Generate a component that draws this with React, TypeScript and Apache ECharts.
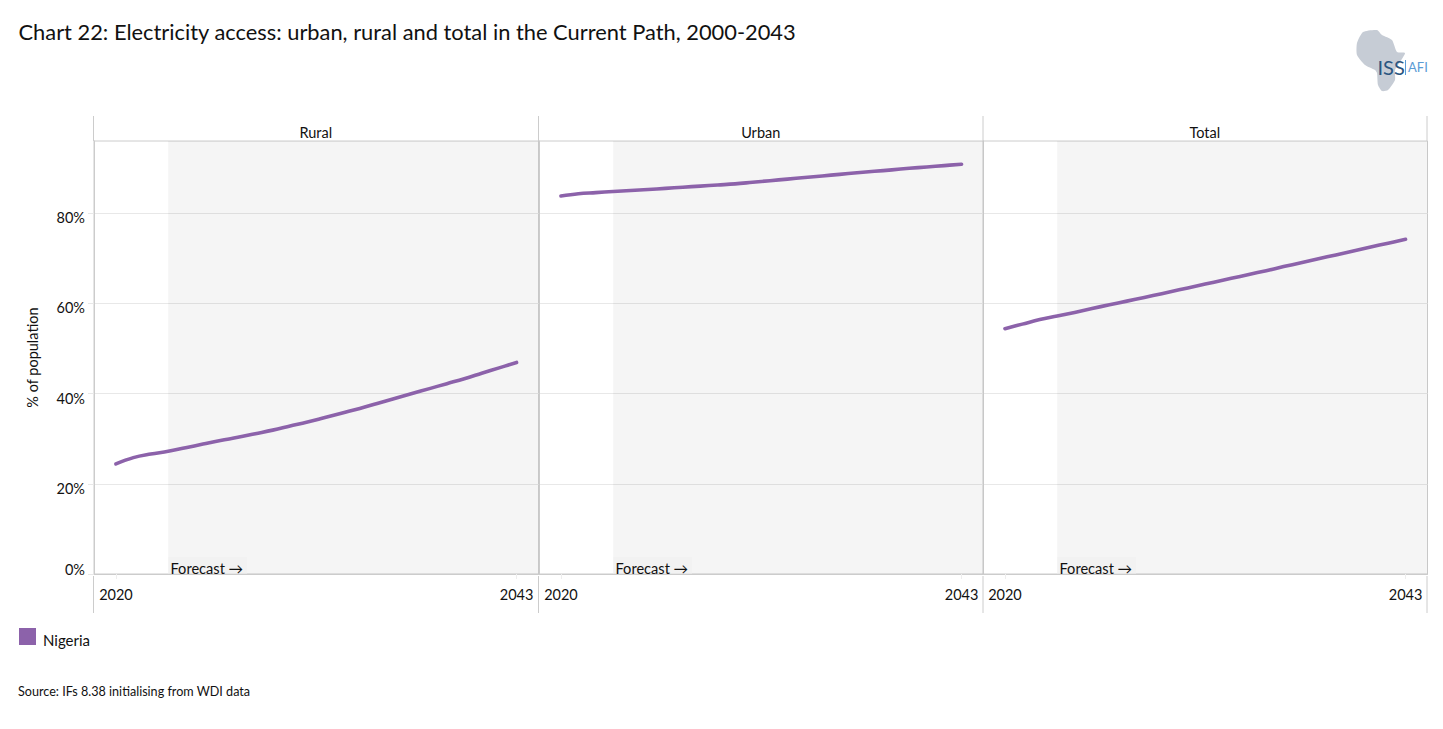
import React, { useEffect, useRef } from "react";
import * as echarts from "echarts";

const years = [2020,2021,2022,2023,2024,2025,2026,2027,2028,2029,2030,2031,2032,2033,2034,2035,2036,2037,2038,2039,2040,2041,2042,2043];
const rural = [24.4,25.8,26.6,27.2,28.0,28.8,29.6,30.3,31.1,31.9,32.8,33.7,34.7,35.7,36.7,37.8,38.9,40.0,41.1,42.2,43.3,44.5,45.7,46.9];
const urban = [83.8,84.3,84.55,84.8,85.02,85.25,85.5,85.75,86.0,86.25,86.5,86.85,87.2,87.55,87.9,88.25,88.6,88.95,89.28,89.6,89.95,90.25,90.55,90.85];
const total = [54.4,55.4,56.4,57.2,58.0,58.85,59.7,60.5,61.3,62.15,63.0,63.85,64.7,65.55,66.4,67.25,68.15,69.0,69.9,70.75,71.6,72.5,73.35,74.2];
const panelNames = ["Rural", "Urban", "Total"];
const panelValues = [rural, urban, total];
const yTicks = [0, 20, 40, 60, 80];
const xTicks = [2020, 2043];
const forecastStart = 2023;
const seriesName = "Nigeria";
const titleText = "Chart 22: Electricity access: urban, rural and total in the Current Path, 2000-2043";
const sourceText = "Source: IFs 8.38 initialising from WDI data";
const africa = [[1363,32],[1377,30],[1382,35],[1392,40],[1397,52],[1405,53],[1400,62],[1395,70],[1395,80],[1388,90],[1382,91],[1378,85],[1377,73],[1375,70],[1365,65],[1357,55],[1357,43]];

const FONT = "Lato";
const LINE = "#cccccc";
const PURPLE = "#8c62aa";
const panelLeft = [94, 539, 983];
const panelWidth = 444.5;
const xMin = 2018.74;
const xMax = 2044.26;

export default function App() {
  const ref = useRef<HTMLDivElement>(null);
  useEffect(() => {
    const chart = echarts.init(ref.current!, undefined, { renderer: "svg" });
    const edges = [93.5, 538.5, 983, 1427];
    const graphic: any[] = [];
    edges.forEach((x) => {
      graphic.push({ type: "line", shape: { x1: x, y1: 116, x2: x, y2: 141 }, style: { stroke: LINE, lineWidth: 1 }, silent: true });
      graphic.push({ type: "line", shape: { x1: x, y1: 576, x2: x, y2: 613 }, style: { stroke: LINE, lineWidth: 1 }, silent: true });
    });
    panelNames.forEach((name, i) => {
      graphic.push({ type: "text", x: panelLeft[i] + panelWidth / 2 - 0.5, y: 132, style: { text: name, font: `14.5px ${FONT}`, fill: "#111", textAlign: "center", textVerticalAlign: "middle" } });
      const fx = panelLeft[i] + 74;
      graphic.push({ type: "rect", shape: { x: fx, y: 557, width: 79, height: 16.5 }, style: { fill: "#fcfcfc" }, silent: true });
      graphic.push({ type: "text", x: fx + 2.5, y: 568.5, style: { text: "Forecast →", font: `14.6px ${FONT}`, fill: "#111", textVerticalAlign: "middle" } });
    });
    graphic.push({ type: "polygon", shape: { points: africa, smooth: 0.2 }, style: { fill: "#c6ccd5" }, silent: true });
    graphic.push({ type: "text", x: 1377.5, y: 67, style: { text: "ISS", font: `20px ${FONT}`, fill: "#2a5580", textVerticalAlign: "middle" } });
    graphic.push({ type: "text", x: 1408, y: 67, style: { text: "AFI", font: `13px ${FONT}`, fill: "#5b9bd5", textVerticalAlign: "middle" } });
    graphic.push({ type: "line", shape: { x1: 1405.5, y1: 60, x2: 1405.5, y2: 75 }, style: { stroke: "#5b9bd5", lineWidth: 1 }, silent: true });
    graphic.push({ type: "text", x: 18, y: 691, style: { text: sourceText, font: `12.6px ${FONT}`, fill: "#111", textVerticalAlign: "middle" } });

    chart.setOption({
      animation: false,
      backgroundColor: "#ffffff",
      textStyle: { fontFamily: FONT },
      title: { text: titleText, left: 18.5, top: 20, padding: 0, textStyle: { fontFamily: FONT, fontSize: 21.85, fontWeight: "normal", color: "#111" } },
      legend: {
        data: [seriesName], left: 19, top: 628, padding: 0, icon: "rect", itemWidth: 17, itemHeight: 17,
        selectedMode: false,
        formatter: "{a|{name}}",
        textStyle: { fontFamily: FONT, fontSize: 15, color: "#111", rich: { a: { fontFamily: FONT, fontSize: 15, color: "#111", padding: [6, 0, 0, 2] } } },
      },
      grid: panelLeft.map((left) => ({ left, top: 141, width: panelWidth, height: 433, show: true, borderColor: LINE, borderWidth: 1, backgroundColor: "transparent" })),
      xAxis: panelLeft.map((_, i) => ({
        type: "value", gridIndex: i, min: xMin, max: xMax,
        splitLine: { show: false },
        axisLine: { show: true, lineStyle: { color: LINE } },
        axisTick: { show: true, customValues: xTicks, length: 5, lineStyle: { color: "#eeeeee" } },
        axisLabel: { customValues: xTicks, margin: 13, fontFamily: FONT, fontSize: 14.5, color: "#111", formatter: (v: number) => String(v) },
      })),
      yAxis: panelLeft.map((_, i) => ({
        type: "value", gridIndex: i, min: 0, max: 96,
        name: i === 0 ? "% of population" : "", nameLocation: "middle", nameGap: 54,
        nameTextStyle: { fontFamily: FONT, fontSize: 14.5, color: "#111" },
        splitLine: { show: true, lineStyle: { color: "#e8e8e8" } },
        axisLine: { show: true, lineStyle: { color: LINE } },
        axisTick: { show: i === 0, customValues: yTicks, length: 6, lineStyle: { color: "#e8e8e8" } },
        axisLabel: {
          show: i === 0, customValues: yTicks, margin: 9, fontFamily: FONT, fontSize: 14.5, color: "#111",
          verticalAlign: "top", verticalAlignMinLabel: "bottom", lineHeight: 9,
          formatter: (v: number) => `${v}%`,
        },
      })),
      series: panelValues.map((vals, i) => ({
        name: seriesName, type: "line", xAxisIndex: i, yAxisIndex: i,
        data: years.map((y, k) => [y, vals[k]]),
        showSymbol: false, smooth: 0.4, itemStyle: { color: PURPLE },
        lineStyle: { color: PURPLE, width: 3.6, cap: "round", join: "round" },
        markArea: {
          silent: true, itemStyle: { color: "rgba(0,0,0,0.04)" },
          data: [[{ xAxis: forecastStart, yAxis: 0 }, { xAxis: xMax, yAxis: 96 }]],
        },
      })),
      graphic,
    });
    return () => chart.dispose();
  }, []);
  return <div ref={ref} style={{ position: "absolute", left: 0, top: 0, width: 1443, height: 729 }} />;
}
